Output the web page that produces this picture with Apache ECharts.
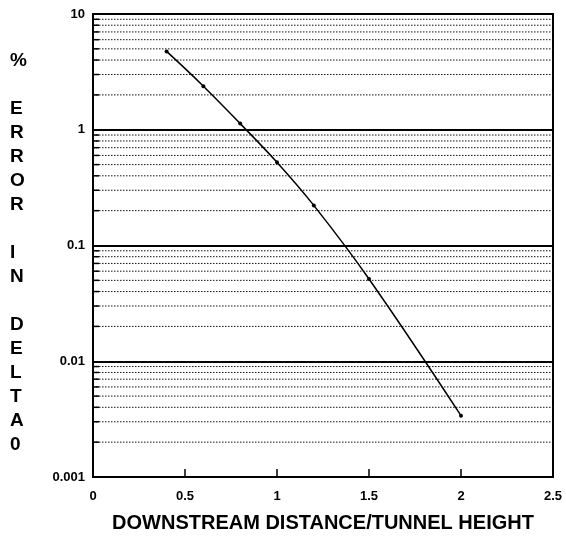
<!DOCTYPE html>
<html>
<head>
<meta charset="utf-8">
<script src="https://cdn.jsdelivr.net/npm/echarts@6/dist/echarts.min.js"></script>
<style>html,body{margin:0;padding:0;background:#fff;}#c{width:566px;height:538px;}</style>
</head>
<body>
<div id="c"></div>
<script>
// Data
const xValues = [0.4, 0.6, 0.8, 1.0, 1.2, 1.5, 2.0];
const errorValues = [4.75, 2.38, 1.13, 0.523, 0.222, 0.0514, 0.00339];
const xTickLabels = ['0', '0.5', '1', '1.5', '2', '2.5'];
const yTickLabels = ['0.001', '0.01', '0.1', '1', '10'];
const decades = [0.001, 0.01, 0.1, 1];
const minorMultipliers = [2, 3, 4, 5, 6, 7, 8, 9];
const yTitleLines = ['%', '', 'E', 'R', 'R', 'O', 'R', '', 'I', 'N', '', 'D', 'E', 'L', 'T', 'A', '0'];
const xTitle = 'DOWNSTREAM DISTANCE/TUNNEL HEIGHT';

const minorValues = [];
decades.forEach(d => minorMultipliers.forEach(m => minorValues.push(+(d * m).toPrecision(3))));

const FONT = '"Liberation Sans", Arial, sans-serif';
const chart = echarts.init(document.getElementById('c'), null, {renderer: 'canvas'});
chart.setOption({
  animation: false,
  backgroundColor: '#fff',
  grid: {left: 93, right: 13, top: 14, bottom: 58, show: true, borderColor: '#000', borderWidth: 2, backgroundColor: 'transparent'},
  xAxis: {
    type: 'value', min: 0, max: 2.5, interval: 0.5,
    axisLine: {show: true, lineStyle: {color: '#000', width: 2}},
    axisTick: {show: true, inside: true, length: 8, lineStyle: {color: '#000', width: 1.5}},
    axisLabel: {margin: 13, color: '#000', fontSize: 13, fontWeight: 'bold', fontFamily: FONT,
      formatter: (v) => xTickLabels[Math.round(v / 0.5)]},
    splitLine: {show: false},
    name: xTitle, nameLocation: 'middle', nameGap: 36,
    nameTextStyle: {color: '#000', fontSize: 20, fontWeight: 'bold', fontFamily: FONT}
  },
  yAxis: {
    type: 'log', logBase: 10, min: 0.001, max: 10,
    axisLine: {show: true, lineStyle: {color: '#000', width: 2}},
    axisTick: {show: true, inside: true, length: 6, lineStyle: {color: '#000', width: 1.5}},
    axisLabel: {margin: 8, color: '#000', fontSize: 13, fontWeight: 'bold', fontFamily: FONT,
      formatter: (v) => { const i = Math.round(Math.log10(v)) + 3; return yTickLabels[i] || ''; }},
    splitLine: {show: true, lineStyle: {color: '#000', width: 2}},
    minorTick: {show: false}, minorSplitLine: {show: false}
  },
  graphic: [{
    type: 'text', left: 10, top: 49,
    style: {text: yTitleLines.join('\n'), x: 0, y: 0, align: 'center', fill: '#000',
      fontSize: 19, fontWeight: 'bold', fontFamily: FONT, lineHeight: 24}
  }],
  series: [
    {
      type: 'custom', z: 1, silent: true,
      data: minorValues.map(v => [0, v]),
      encode: {x: 0, y: 1},
      renderItem: function (params, api) {
        const v = api.value(1);
        const p = api.coord([0, v]);
        const p2 = api.coord([2.5, v]);
        return {type: 'group', children: [
          {type: 'line', shape: {x1: p[0], y1: p[1], x2: p2[0], y2: p2[1]},
            style: {stroke: '#111', lineWidth: 1, lineDash: [1.5, 1.5]}},
          {type: 'line', shape: {x1: p[0], y1: p[1], x2: p[0] + 6, y2: p[1]},
            style: {stroke: '#000', lineWidth: 1.5}}
        ]};
      }
    },
    {
      type: 'line', z: 5,
      data: xValues.map((x, i) => [x, errorValues[i]]),
      smooth: 0.4,
      symbol: 'circle', symbolSize: 4, showSymbol: true,
      lineStyle: {color: '#000', width: 1.5},
      itemStyle: {color: '#000'}
    }
  ]
});
</script>
</body>
</html>
